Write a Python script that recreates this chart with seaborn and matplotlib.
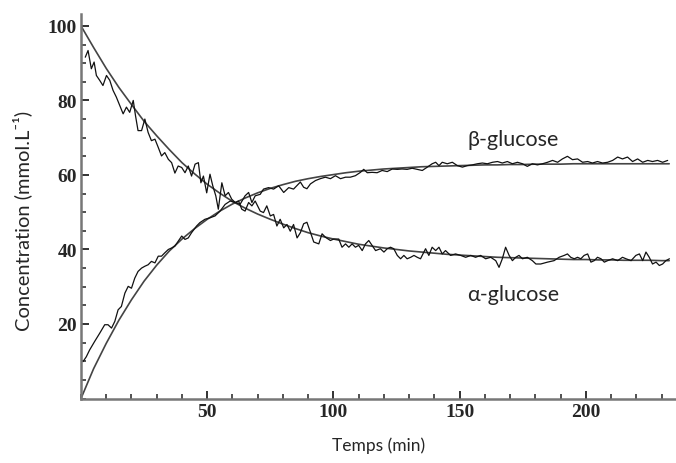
import matplotlib
matplotlib.use("Agg")
import matplotlib.pyplot as plt
from matplotlib.ticker import MultipleLocator, FixedLocator
import seaborn as sns
import pandas as pd

# fitted curves, read every 5 min
fit_t = [0, 5, 10, 15, 20, 25, 30, 35, 40, 45, 50, 55, 60, 65, 70, 75, 80, 85, 90, 95,
         100, 105, 110, 115, 120, 125, 130, 135, 140, 145, 150, 155, 160, 165, 170, 175,
         180, 185, 190, 195, 200, 205, 210, 215, 220, 225, 230, 233]
alpha_fit = [100.0, 94.2, 88.6, 83.5, 78.9, 74.4, 70.5, 66.8, 63.3, 60.3, 57.5, 55.1, 52.9,
             51.1, 49.5, 48.1, 46.8, 45.6, 44.5, 43.6, 42.8, 42.1, 41.4, 40.9, 40.4, 40.0,
             39.6, 39.3, 39.0, 38.7, 38.5, 38.3, 38.1, 37.9, 37.8, 37.7, 37.6, 37.5, 37.4,
             37.3, 37.3, 37.2, 37.2, 37.1, 37.1, 37.1, 37.0, 37.0]
beta_fit = [0.0, 8.0, 14.8, 21.0, 26.5, 31.5, 35.8, 39.6, 42.8, 45.6, 48.1, 50.3, 52.2,
            53.8, 55.2, 56.4, 57.4, 58.3, 59.0, 59.6, 60.1, 60.6, 61.0, 61.3, 61.6, 61.8,
            62.0, 62.2, 62.3, 62.4, 62.5, 62.6, 62.7, 62.7, 62.8, 62.8, 62.9, 62.9, 62.9,
            63.0, 63.0, 63.0, 63.0, 63.0, 63.0, 63.0, 63.0, 63.0]

# measured alpha-glucose
alpha_t = [1.7, 2.8, 4.1, 5.2, 6.1, 7.4, 8.7, 10.1, 11.4, 12.7, 14.0, 15.4, 16.7, 18.0,
           19.3, 20.7, 21.6, 22.6, 24.0, 25.3, 26.6, 27.9, 29.3, 30.6, 31.9, 33.2, 34.6,
           35.9, 37.2, 38.5, 39.9, 41.2, 42.5, 43.8, 45.2, 46.5, 47.5, 48.5, 49.8, 51.1,
           52.2, 53.4, 54.4, 55.8, 57.1, 58.4, 59.7, 61.1, 62.4, 63.7, 65.0, 66.4, 67.7,
           69.0, 71.0, 72.3, 73.6, 75.0, 76.3, 77.6, 78.9, 80.3, 81.6, 82.9, 84.2, 85.6,
           86.9, 88.2, 89.5, 90.9, 92.2, 94.2, 95.5, 96.8, 98.8, 100.1, 102.1, 103.4,
           104.8, 106.1, 107.4, 108.7, 110.0, 111.4, 112.7, 114.0, 115.3, 116.7, 118.6,
           120.0, 121.3, 122.6, 123.9, 125.3, 126.6, 127.9, 129.2, 130.6, 131.9, 133.2,
           134.5, 136.5, 137.8, 139.1, 140.5, 141.8, 143.1, 144.4, 146.4, 148.4, 150.4,
           152.4, 154.4, 156.3, 158.3, 160.3, 162.3, 164.3, 165.6, 166.9, 168.2, 169.6,
           170.9, 172.2, 173.5, 174.9, 176.8, 178.8, 180.2, 182.1, 184.8, 187.4, 189.4,
           191.4, 192.7, 194.0, 195.4, 196.7, 198.0, 199.3, 200.7, 202.0, 203.3, 204.6,
           206.0, 207.3, 208.6, 210.6, 212.6, 214.5, 215.9, 217.9, 219.8, 221.2, 222.5,
           223.8, 225.1, 226.4, 227.8, 229.1, 230.4, 231.7, 233.1]
alpha_obs = [91.6, 93.4, 88.5, 90.3, 86.7, 85.4, 84.0, 86.7, 85.4, 82.7, 80.9, 78.6, 76.4,
             78.2, 76.8, 80.0, 75.9, 71.9, 71.9, 75.0, 71.4, 69.2, 69.6, 67.4, 65.1, 66.0,
             64.2, 63.3, 60.5, 62.4, 62.0, 60.6, 62.4, 59.7, 62.9, 63.3, 57.9, 59.7, 55.2,
             60.2, 57.1, 54.4, 50.8, 57.9, 54.4, 55.3, 53.5, 52.6, 53.0, 50.8, 50.3, 52.6,
             51.7, 53.0, 50.3, 49.9, 51.7, 49.0, 49.4, 46.3, 48.1, 45.8, 46.7, 44.9, 46.7,
             43.1, 44.5, 46.9, 47.3, 44.6, 42.0, 41.5, 44.2, 43.3, 42.4, 42.8, 42.8, 40.6,
             41.5, 40.6, 41.5, 40.6, 41.1, 39.7, 41.5, 42.4, 41.1, 39.7, 40.2, 39.3, 40.2,
             40.6, 40.2, 38.4, 37.5, 38.4, 37.5, 37.9, 38.4, 37.9, 37.5, 40.2, 38.4, 40.6,
             39.7, 40.6, 38.8, 39.7, 38.4, 38.8, 38.4, 37.9, 38.4, 37.9, 38.4, 37.5, 37.9,
             37.0, 35.2, 37.5, 40.6, 38.4, 37.0, 37.9, 38.4, 37.5, 37.9, 37.0, 36.1, 36.1,
             36.6, 37.0, 37.9, 38.4, 38.8, 37.9, 37.5, 37.9, 37.5, 38.4, 38.8, 36.6, 37.0,
             37.9, 37.5, 36.6, 37.0, 37.5, 37.0, 37.9, 37.5, 37.0, 38.4, 38.8, 37.0, 39.3,
             37.9, 36.1, 36.6, 35.7, 36.1, 37.0, 37.5]

# measured beta-glucose
beta_t = [0.8, 2.1, 3.4, 5.4, 7.4, 9.4, 10.7, 12.1, 13.4, 14.7, 16.0, 17.4, 18.7, 20.0,
          21.3, 22.6, 24.0, 25.3, 26.6, 27.9, 29.3, 30.6, 31.9, 33.2, 34.6, 35.9, 37.2,
          38.5, 39.9, 41.2, 42.5, 43.8, 45.8, 47.1, 49.1, 51.1, 53.1, 55.1, 57.1, 59.1,
          61.1, 63.0, 65.0, 66.4, 67.7, 69.0, 71.0, 72.3, 74.3, 76.3, 78.3, 80.3, 82.3,
          84.2, 86.9, 88.2, 89.5, 90.9, 92.9, 94.8, 96.8, 98.8, 100.8, 102.8, 104.8,
          106.7, 108.7, 110.7, 112.0, 113.4, 115.3, 117.3, 119.3, 121.3, 123.3, 125.3,
          127.2, 129.2, 131.2, 133.2, 135.2, 137.2, 139.1, 140.5, 141.8, 143.1, 145.1,
          147.1, 149.1, 151.1, 153.0, 155.0, 157.0, 159.0, 161.0, 163.0, 165.0, 166.9,
          168.9, 170.9, 172.9, 174.9, 176.8, 178.8, 180.8, 182.8, 184.8, 186.8, 188.8,
          190.7, 192.7, 194.7, 196.7, 198.7, 200.7, 202.6, 204.6, 206.6, 208.6, 210.6,
          212.6, 214.5, 216.5, 218.5, 220.5, 222.5, 224.5, 226.4, 228.4, 230.4, 232.4]
beta_obs = [9.9, 11.2, 13.0, 15.3, 17.5, 19.8, 19.8, 18.9, 20.7, 23.8, 24.7, 28.3, 30.1,
            29.6, 32.3, 34.1, 35.0, 35.5, 35.9, 36.8, 36.4, 38.2, 38.2, 39.1, 40.0, 40.4,
            40.9, 42.2, 43.6, 42.7, 43.1, 44.5, 46.3, 47.2, 48.1, 48.5, 49.0, 50.3, 52.1,
            53.0, 52.6, 52.1, 54.4, 55.3, 52.6, 54.4, 54.8, 56.2, 56.6, 56.2, 57.1, 55.3,
            56.6, 56.2, 58.1, 56.7, 56.3, 57.6, 58.5, 59.0, 59.4, 59.0, 59.8, 59.0, 59.4,
            59.4, 59.8, 60.7, 61.5, 60.6, 60.7, 60.6, 61.2, 60.9, 61.6, 61.5, 61.6, 61.5,
            61.8, 61.5, 61.2, 62.1, 63.0, 63.4, 62.5, 63.4, 63.0, 63.4, 62.5, 62.1, 62.5,
            62.7, 63.0, 63.2, 63.0, 63.4, 63.6, 63.2, 63.6, 63.0, 63.4, 63.0, 62.3, 63.0,
            62.7, 63.0, 63.4, 63.9, 63.4, 64.3, 65.0, 64.1, 64.3, 63.4, 63.6, 63.2, 63.6,
            63.2, 63.4, 63.9, 64.8, 64.3, 64.8, 63.6, 64.3, 63.4, 63.9, 63.6, 63.9, 63.4,
            63.9]

x_major = [50, 100, 150, 200]
y_major = [20, 40, 60, 80, 100]

fit = pd.DataFrame({"t": fit_t, "alpha": alpha_fit, "beta": beta_fit})
obs_a = pd.DataFrame({"t": alpha_t, "c": alpha_obs})
obs_b = pd.DataFrame({"t": beta_t, "c": beta_obs})

sns.set_style("ticks")
plt.rcParams["font.family"] = ["Lato", "Open Sans", "DejaVu Sans"]

fig = plt.figure(figsize=(6.76, 4.64), dpi=100)
ax = fig.add_axes([0.1198, 0.139, 0.8802, 0.8287])

sns.lineplot(data=fit, x="t", y="alpha", ax=ax, color="#444444", lw=1.2, estimator=None, sort=False)
sns.lineplot(data=fit, x="t", y="beta", ax=ax, color="#444444", lw=1.2, estimator=None, sort=False)
sns.lineplot(data=obs_a, x="t", y="c", ax=ax, color="#111111", lw=0.9, estimator=None, sort=False)
sns.lineplot(data=obs_b, x="t", y="c", ax=ax, color="#111111", lw=0.9, estimator=None, sort=False)

ax.set_xlim(0, 235.7)
ax.set_ylim(0, 103.2)
ax.xaxis.set_major_locator(FixedLocator(x_major))
ax.xaxis.set_minor_locator(MultipleLocator(10))
ax.yaxis.set_major_locator(FixedLocator(y_major))
ax.yaxis.set_minor_locator(MultipleLocator(5))
ax.tick_params(which="both", bottom=True, left=True, top=False, right=False, direction="in")
ax.tick_params(which="major", length=6, width=1.3, color="#222222", pad=3)
ax.tick_params(which="minor", length=3.5, width=1.1, color="#222222")
for lab in ax.get_xticklabels() + ax.get_yticklabels():
    lab.set_family("Liberation Serif")
    lab.set_fontsize(14)
    lab.set_fontweight("bold")

sns.despine(ax=ax)
for side in ["left", "bottom"]:
    ax.spines[side].set_color("#777777")
    ax.spines[side].set_linewidth(1.8)

ax.set_xlabel("Temps (min)", fontsize=12.5, labelpad=12)
ax.set_ylabel("Concentration (mmol.L⁻¹)", fontsize=14.5)
ax.yaxis.set_label_coords(-0.082, 0.464)

ax.text(171.4, 69.7, "β-glucose", fontsize=15.5, ha="center", va="center")
ax.text(171.4, 28.1, "α-glucose", fontsize=15.5, ha="center", va="center")

fig.savefig("out.png", dpi=100)
